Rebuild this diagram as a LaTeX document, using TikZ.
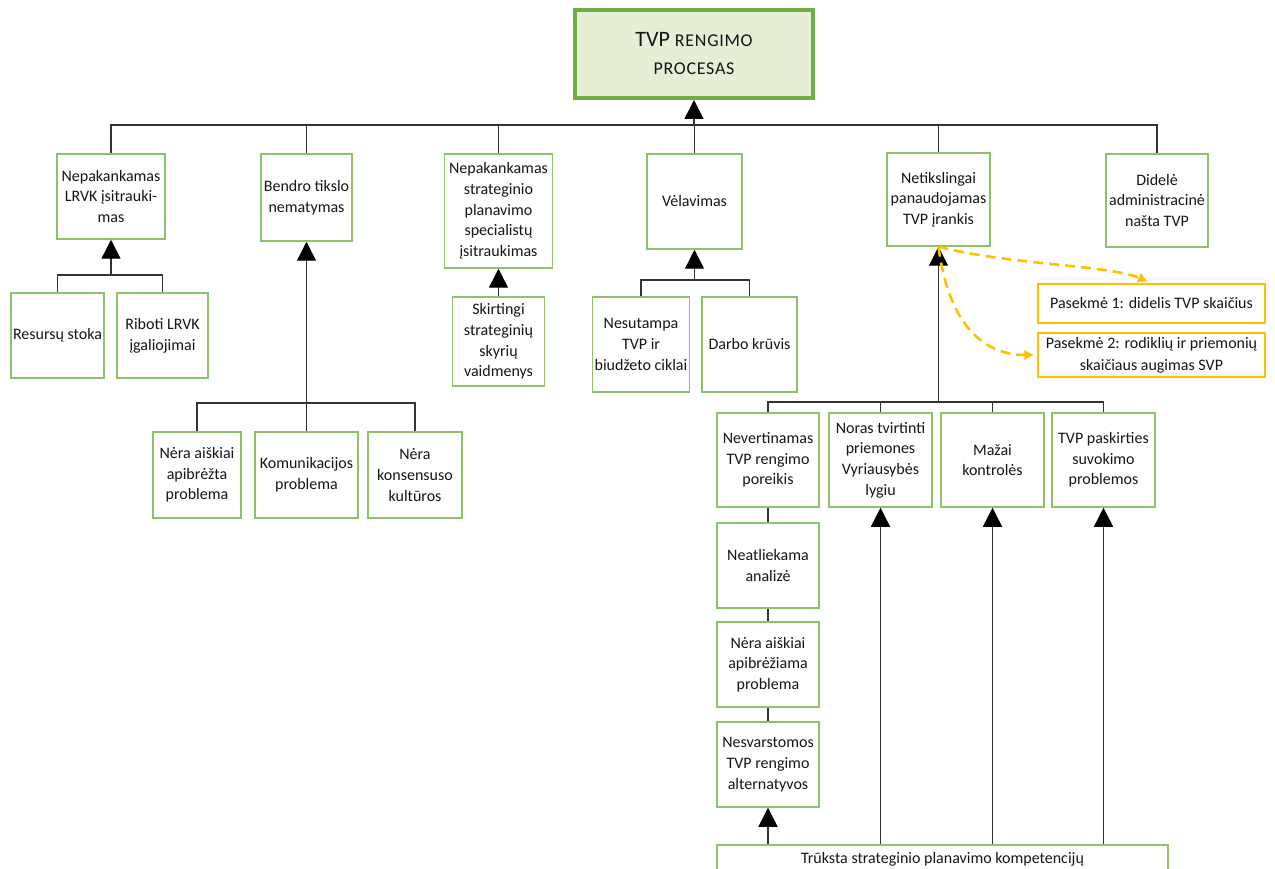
\documentclass[tikz,border=0pt]{standalone}
\usepackage{fontspec}
\setmainfont{Carlito}
\usetikzlibrary{arrows.meta,calc}
\definecolor{boxgreen}{HTML}{8DC26A}
\definecolor{topgreen}{HTML}{70AD47}
\definecolor{topfill}{HTML}{E5EFD6}
\definecolor{linkgray}{HTML}{333333}
\definecolor{amber}{HTML}{FFC000}
\definecolor{ink}{HTML}{161616}
\begin{document}
\begin{tikzpicture}[x=1pt,y=-1pt,
  box/.style={draw=boxgreen, line width=1.5pt, fill=white, align=center,
    inner sep=2pt, text=ink, font=\fontsize{16}{20.7}\selectfont},
  conbox/.style={box, draw=amber},
  link/.style={draw=linkgray, line width=1.4pt},
  up/.style={link, -{Triangle[length=19pt,width=19pt,color=black]}},
  cons/.style={draw=amber, line width=2.6pt, dash pattern=on 10pt off 6pt,
    -{Latex[length=10pt,width=11pt]}}
]
\useasboundingbox (0,0) rectangle (1275,869);
\clip (0,0) rectangle (1275,869);

% root
\node[draw=topgreen, fill=topfill, line width=4pt, minimum width=238, minimum height=88,
  align=center, text=ink, font=\fontsize{22}{28}\selectfont] (T) at (694,54)
  {TVP {\fontsize{18}{28}\selectfont\addfontfeature{LetterSpace=4}RENGIMO}\\
   {\fontsize{18}{28}\selectfont\addfontfeature{LetterSpace=4}PROCESAS}};

% first level causes
\node[box, minimum width=108, minimum height=85] (A1) at (111,196.5)
  {Nepakankamas\\LRVK įsitrauki-\\mas};
\node[box, minimum width=91, minimum height=87] (A2) at (306.5,197.5)
  {Bendro tikslo\\nematymas};
\node[box, minimum width=108, minimum height=114] (A3) at (498.5,211)
  {Nepakankamas\\strateginio\\planavimo\\specialistų\\įsitraukimas};
\node[box, minimum width=95, minimum height=95] (A4) at (694.5,201.5)
  {Vėlavimas};
\node[box, minimum width=103, minimum height=93] (A5) at (938.5,199.5)
  {Netikslingai\\panaudojamas\\TVP įrankis};
\node[box, minimum width=102, minimum height=93] (A6) at (1157,200.5)
  {Didelė\\administracinė\\našta TVP};

% second level
\node[box, minimum width=91, minimum height=85] (B1) at (57.5,335.5) {Resursų stoka};
\node[box, minimum width=91, minimum height=85] (B2) at (162.5,335.5) {Riboti LRVK\\įgaliojimai};

\node[box, minimum width=88, minimum height=86] (C1) at (197,475) {Nėra aiškiai\\apibrėžta\\problema};
\node[box, minimum width=103, minimum height=86] (C2) at (306.5,475) {Komunikacijos\\problema};
\node[box, minimum width=94, minimum height=86] (C3) at (415,475) {Nėra\\konsensuso\\kultūros};

\node[box, minimum width=92, minimum height=89] (D1) at (498.5,341.5)
  {Skirtingi\\strateginių\\skyrių\\vaidmenys};

\node[box, minimum width=96, minimum height=95] (E1) at (641,344.5) {Nesutampa\\TVP ir\\biudžeto ciklai};
\node[box, minimum width=95, minimum height=95] (E2) at (749.5,344.5) {Darbo krūvis};

% consequences
\node[conbox, minimum width=227, minimum height=39] (Y1) at (1151.5,303.5)
  {Pasekmė 1: didelis TVP skaičius};
\node[conbox, minimum width=227, minimum height=44, font=\fontsize{16}{22}\selectfont] (Y2) at (1151.5,355)
  {Pasekmė 2: rodiklių ir priemonių\\skaičiaus augimas SVP};

% causes of the misused tool
\node[box, minimum width=102, minimum height=94] (F1) at (768,460) {Nevertinamas\\TVP rengimo\\poreikis};
\node[box, minimum width=103, minimum height=94] (F2) at (880.5,460) {Noras tvirtinti\\priemones\\Vyriausybės\\lygiu};
\node[box, minimum width=103, minimum height=94] (F3) at (992.5,460) {Mažai\\kontrolės};
\node[box, minimum width=103, minimum height=94] (F4) at (1103.5,460) {TVP paskirties\\suvokimo\\problemos};

\node[box, minimum width=102, minimum height=85] (G1) at (768,565.5) {Neatliekama\\analizė};
\node[box, minimum width=102, minimum height=85] (G2) at (768,664.5) {Nėra aiškiai\\apibrėžiama\\problema};
\node[box, minimum width=102, minimum height=85] (G3) at (768,764.5) {Nesvarstomos\\TVP rengimo\\alternatyvos};

\node[box, anchor=north, minimum width=451, minimum height=30] (H) at (942.5,844)
  {Trūksta strateginio planavimo kompetencijų};

% junction points
\coordinate (bT) at (694,125);
\coordinate (bA1) at (111,275);
\coordinate (bA2) at (306.5,403);
\coordinate (bA4) at (694.5,280);
\coordinate (bA5) at (938.5,402);

% top bus
\draw[link] (A1.north) -- (A1.north |- bT) -- (A6.north |- bT) -- (A6.north);
\foreach \n in {A2,A3,A4,A5} \draw[link] (\n.north) -- (\n.north |- bT);
\draw[up] (bT) -- (T.south);

% LRVK branch
\draw[link] (B1.north) -- (B1.north |- bA1) -- (B2.north |- bA1) -- (B2.north);
\draw[up] (bA1) -- (A1.south);

% common goal branch
\draw[link] (C1.north) -- (C1.north |- bA2) -- (C3.north |- bA2) -- (C3.north);
\draw[link] (C2.north) -- (bA2);
\draw[up] (bA2) -- (A2.south);

% specialists branch
\draw[up] (D1.north) -- (A3.south);

% delay branch
\draw[link] (E1.north) -- (E1.north |- bA4) -- (E2.north |- bA4) -- (E2.north);
\draw[up] (bA4) -- (A4.south);

% misused tool branch
\draw[link] (F1.north) -- (F1.north |- bA5) -- (F4.north |- bA5) -- (F4.north);
\foreach \n in {F2,F3} \draw[link] (\n.north) -- (\n.north |- bA5);
\draw[up] (bA5) -- (A5.south);

\draw[link] (F1.south) -- (G1.north);
\draw[link] (G1.south) -- (G2.north);
\draw[link] (G2.south) -- (G3.north);

\foreach \n in {G3,F2,F3,F4} \draw[up] (H.north -| \n.south) -- (\n.south);

% consequences of the misused tool
\draw[cons] (A5.south) .. controls (1010,265) and (1110,265) .. ($(Y1.north)+(-3.5,-1.5)$);
\draw[cons] (A5.south) .. controls (948,320) and (980,355) .. ($(Y2.west)+(-3,0)$);
\end{tikzpicture}
\end{document}
